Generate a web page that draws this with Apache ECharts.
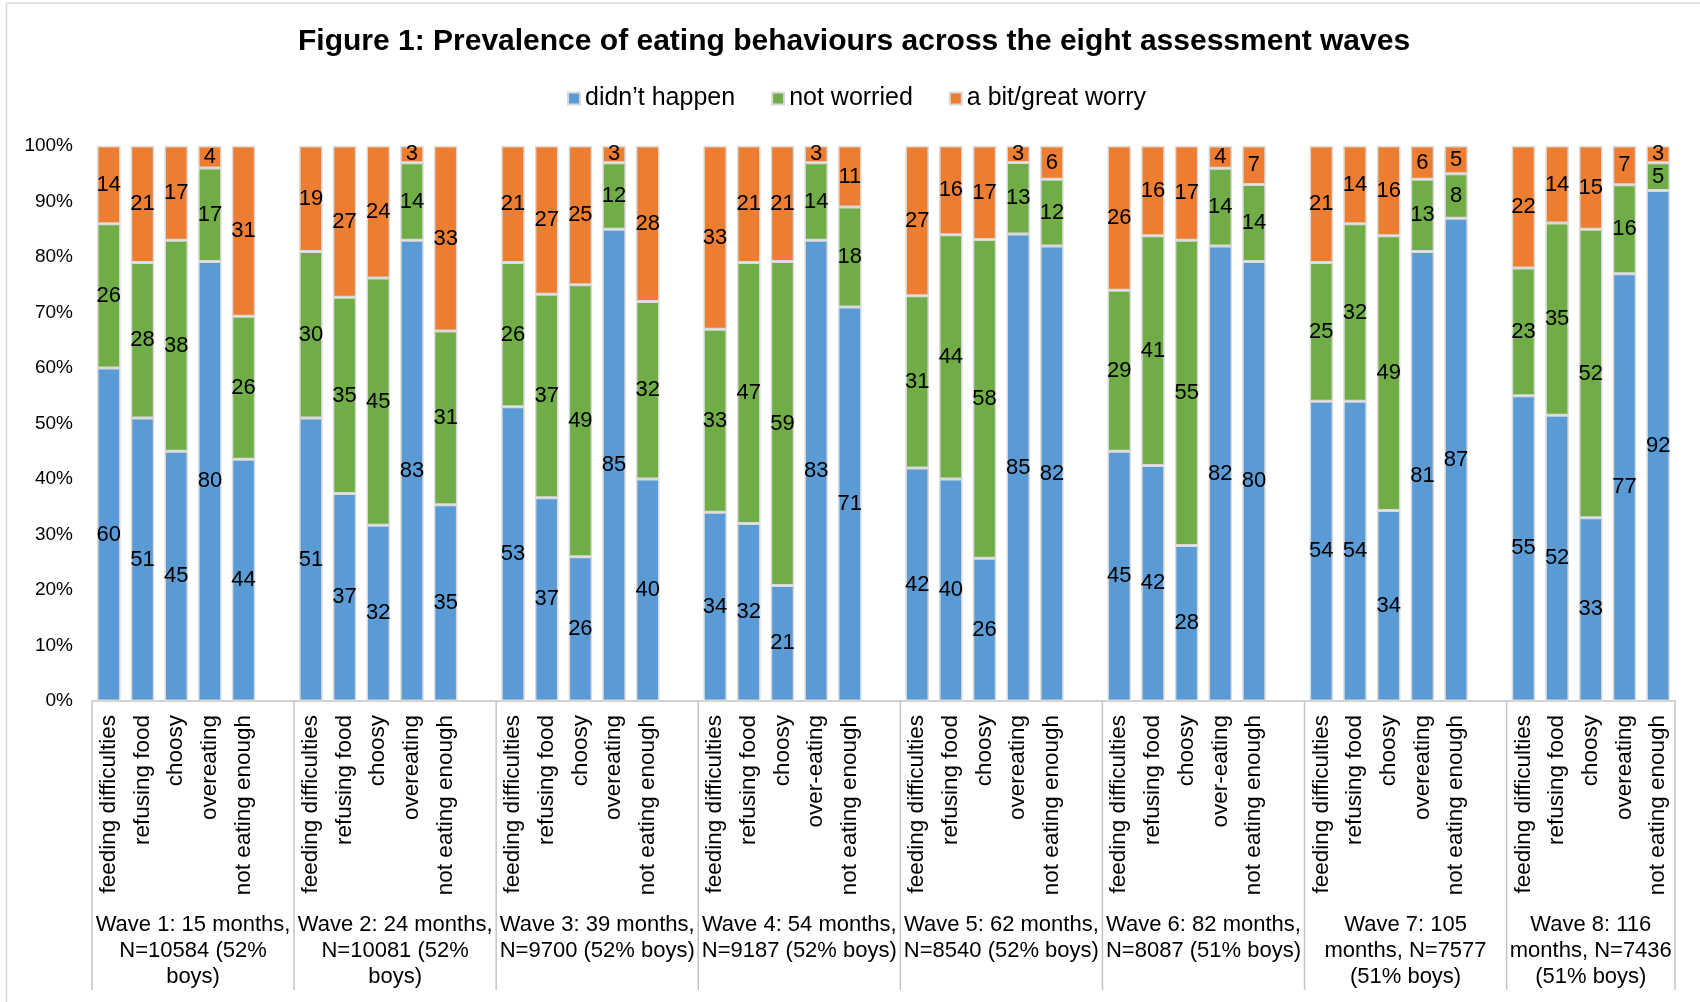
<!DOCTYPE html>
<html>
<head>
<meta charset="utf-8">
<script src="https://cdn.jsdelivr.net/npm/echarts@6/dist/echarts.min.js"></script>
<style>
html,body{margin:0;padding:0;background:#fff;}
#c{width:1700px;height:1002px;}
</style>
</head>
<body>
<div id="c"></div>
<script>
const titleText = 'Figure 1: Prevalence of eating behaviours across the eight assessment waves';
const seriesNames = ['didn\u2019t happen', 'not worried', 'a bit/great worry'];
const waveLabels = [
  'Wave 1: 15 months,\nN=10584 (52%\nboys)',
  'Wave 2: 24 months,\nN=10081 (52%\nboys)',
  'Wave 3: 39 months,\nN=9700 (52% boys)',
  'Wave 4: 54 months,\nN=9187 (52% boys)',
  'Wave 5: 62 months,\nN=8540 (52% boys)',
  'Wave 6: 82 months,\nN=8087 (51% boys)',
  'Wave 7: 105\nmonths, N=7577\n(51% boys)',
  'Wave 8: 116\nmonths, N=7436\n(51% boys)'
];
const categoryNames = [
  ['feeding difficulties','refusing food','choosy','overeating','not eating enough'],
  ['feeding difficulties','refusing food','choosy','overeating','not eating enough'],
  ['feeding difficulties','refusing food','choosy','overeating','not eating enough'],
  ['feeding difficulties','refusing food','choosy','over-eating','not eating enough'],
  ['feeding difficulties','refusing food','choosy','overeating','not eating enough'],
  ['feeding difficulties','refusing food','choosy','over-eating','not eating enough'],
  ['feeding difficulties','refusing food','choosy','overeating','not eating enough'],
  ['feeding difficulties','refusing food','choosy','overeating','not eating enough']
];
const didntHappen = [[60,51,45,80,44],[51,37,32,83,35],[53,37,26,85,40],[34,32,21,83,71],[42,40,26,85,82],[45,42,28,82,80],[54,54,34,81,87],[55,52,33,77,92]];
const notWorried  = [[26,28,38,17,26],[30,35,45,14,31],[26,37,49,12,32],[33,47,59,14,18],[31,44,58,13,12],[29,41,55,14,14],[25,32,49,13,8],[23,35,52,16,5]];
const worry       = [[14,21,17,4,31],[19,27,24,3,33],[21,27,25,3,28],[33,21,21,3,11],[27,16,17,3,6],[26,16,17,4,7],[21,14,16,6,5],[22,14,15,7,3]];
const colors = ['#5B9BD5', '#70AD47', '#ED7D31'];

const FONT = "'Liberation Sans', Arial, sans-serif";

// build slot arrays (5 bars per wave + one empty slot between waves)
const slots = [];
const groupStart = [];
const rawSets = [didntHappen, notWorried, worry];
const seriesData = [[], [], []];
for (let w = 0; w < waveLabels.length; w++) {
  groupStart.push(slots.length);
  for (let c = 0; c < 5; c++) {
    slots.push(categoryNames[w][c]);
    const sum = didntHappen[w][c] + notWorried[w][c] + worry[w][c];
    for (let s = 0; s < 3; s++) {
      const raw = rawSets[s][w][c];
      seriesData[s].push({ value: raw / sum * 100, raw: raw });
    }
  }
  if (w < waveLabels.length - 1) {
    slots.push('');
    for (let s = 0; s < 3; s++) seriesData[s].push({ value: null, raw: null });
  }
}

const chart = echarts.init(document.getElementById('c'), null, { renderer: 'canvas' });

const option = {
  animation: false,
  backgroundColor: '#fff',
  textStyle: { fontFamily: FONT },
  title: {
    text: titleText,
    left: 298, top: 27, padding: 0,
    textStyle: { fontFamily: FONT, fontSize: 30, fontWeight: 'bold', color: '#000', lineHeight: 30 }
  },
  legend: {
    data: seriesNames,
    left: 567, top: 86, padding: 0,
    itemWidth: 12, itemHeight: 12, itemGap: 36,
    icon: 'rect',
    textStyle: { fontFamily: FONT, fontSize: 25, color: '#000', lineHeight: 25 }
  },
  grid: { left: 92, right: 25, top: 146, bottom: 301, containLabel: false },
  xAxis: {
    type: 'category',
    data: slots,
    boundaryGap: true,
    axisLine: { show: true, lineStyle: { color: '#C4C4C4', width: 1.5 } },
    axisTick: { show: false },
    axisLabel: {
      interval: 0, rotate: 90, margin: 14,
      fontFamily: FONT, fontSize: 22.5, color: '#000'
    },
    splitLine: { show: false }
  },
  yAxis: {
    type: 'value', min: 0, max: 100, interval: 10,
    axisLine: { show: false }, axisTick: { show: false },
    splitLine: { show: false },
    axisLabel: { formatter: '{value}%', fontFamily: FONT, fontSize: 19, color: '#000', margin: 19 }
  },
  series: seriesNames.map((name, i) => ({
    name: name,
    type: 'bar',
    stack: 'total',
    barWidth: 23.5,
    data: seriesData[i],
    itemStyle: { color: colors[i], borderColor: '#D9D9D9', borderWidth: 1.5 },
    label: {
      show: true, position: 'inside',
      fontFamily: FONT, fontSize: 22, color: '#000',
      formatter: p => (p.data && p.data.raw != null) ? String(p.data.raw) : ''
    },
    emphasis: { disabled: true }
  }))
};
chart.setOption(option);

// separators and wave labels placed through the category axis scale
const slotW = chart.convertToPixel({ xAxisIndex: 0 }, 1) - chart.convertToPixel({ xAxisIndex: 0 }, 0);
const axisY = chart.convertToPixel({ yAxisIndex: 0 }, 0);
const leftOf = idx => chart.convertToPixel({ xAxisIndex: 0 }, idx) - slotW / 2;
const graphics = [];
const bounds = groupStart.map(g => leftOf(g));
bounds.push(leftOf(slots.length - 1) + slotW);
bounds.forEach(x => {
  graphics.push({
    type: 'line', silent: true,
    shape: { x1: x, y1: axisY, x2: x, y2: 990 },
    style: { stroke: '#C4C4C4', lineWidth: 1.5 }
  });
});
waveLabels.forEach((t, w) => {
  const x0 = bounds[w];
  const x1 = bounds[w + 1];
  graphics.push({
    type: 'text', silent: true,
    style: {
      text: t, x: (x0 + x1) / 2, y: 912,
      textAlign: 'center', align: 'center',
      textVerticalAlign: 'top', verticalAlign: 'top',
      font: '22px ' + FONT, fontFamily: FONT, fontSize: 22,
      lineHeight: 26, fill: '#000'
    }
  });
});
// outer chart-area frame (left and top edges visible)
graphics.push({ type: 'line', silent: true, shape: { x1: 6.5, y1: 3, x2: 6.5, y2: 1002 }, style: { stroke: '#D9D9D9', lineWidth: 1.5 } });
graphics.push({ type: 'line', silent: true, shape: { x1: 6.5, y1: 3, x2: 1700, y2: 3 }, style: { stroke: '#D9D9D9', lineWidth: 1.5 } });
chart.setOption({ graphic: graphics });
</script>
</body>
</html>
